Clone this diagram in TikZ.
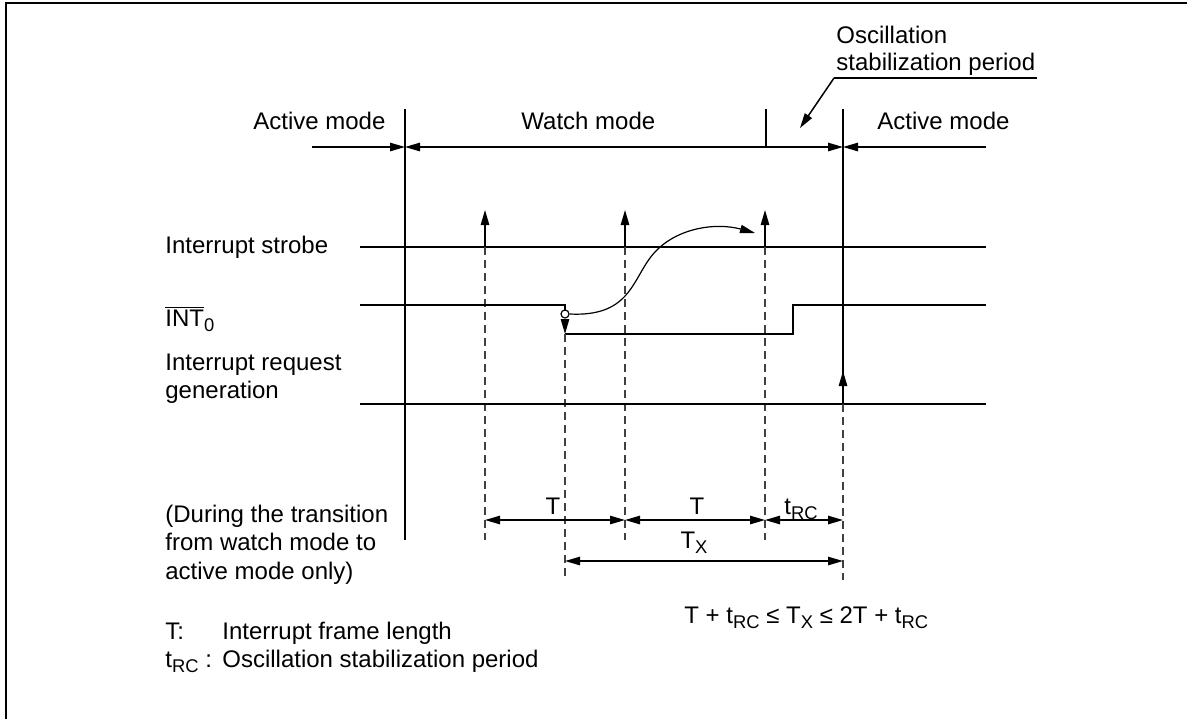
\documentclass[tikz,border=0pt]{standalone}
\usepackage{fontspec}
\setmainfont{Liberation Sans}
\usetikzlibrary{arrows.meta}
\newcommand\sbs[1]{\raisebox{-2.6pt}{\fontsize{9.2}{9.2}\selectfont #1}}
\newcommand\myovl[1]{\setbox0\hbox{#1}\rlap{\rule[\dimexpr\ht0+1pt\relax]{\wd0}{0.5pt}}#1}
\begin{document}
\begin{tikzpicture}[x=0.5pt,y=-0.5pt,
  lbl/.style={inner sep=0pt, anchor=base west, font=\fontsize{12}{14}\selectfont},
  clbl/.style={inner sep=0pt, anchor=base, font=\fontsize{12}{14}\selectfont},
  ln/.style={line width=0.75pt},
  dsh/.style={line width=0.7pt, dash pattern=on 4pt off 2.5pt, black!75},
  tip/.style={-{Triangle[length=7.5pt,width=4.2pt]}, line width=0.75pt},
  dim/.style={{Triangle[length=7.5pt,width=4.2pt]}-{Triangle[length=7.5pt,width=4.2pt]}, line width=0.75pt}]
\useasboundingbox (0,0) rectangle (1187,719);
% frame
\draw[line width=1pt] (6,719) -- (6,3) -- (1187,3);

% key coordinates
\coordinate (mL) at (312,147);
\coordinate (m1) at (405,147);
\coordinate (m2) at (843,147);
\coordinate (mR) at (986,147);
\coordinate (v1top) at (405,109);
\coordinate (v1bot) at (405,540);
\coordinate (v2top) at (843,109);
\coordinate (tickTop) at (766,109);
\coordinate (tickBot) at (766,147);

% labels top
\node[lbl] (am1) at (253,129) {Active mode};
\node[lbl] (wm) at (521,129) {Watch mode};
\node[lbl] (am2) at (877,129) {Active mode};
\node[lbl] (osc1) at (836,43) {Oscillation};
\node[lbl] (osc2) at (836,70) {stabilization period};
\coordinate (uL) at (834,78);
\coordinate (uR) at (1037,78);
\coordinate (uTip) at (800,128);
\draw[ln] (uR) -- (uL);
\draw[ln, -{Triangle[length=7.5pt,width=4.2pt]}] (uL) -- (uTip);

% mode arrows
\draw[tip] (mL) -- (m1);
\draw[dim] (m1) -- (m2);
\draw[tip] (mR) -- (m2);
\draw[ln] (v1top) -- (v1bot);
\draw[ln] (tickTop) -- (tickBot);

% left labels
\node[lbl] (is) at (165,253) {Interrupt strobe};
\node[lbl] (int) at (165,326) {\myovl{INT}\sbs{0}};
\node[lbl] (irq1) at (165,370) {Interrupt request};
\node[lbl] (irq2) at (165,398) {generation};
\node[lbl] (dur1) at (165,522) {(During the transition};
\node[lbl] (dur2) at (165,550) {from watch mode to};
\node[lbl] (dur3) at (165,579) {active mode only)};
\node[lbl] (lgT) at (165,639) {T:};
\node[lbl] (lgTd) at (222,639) {Interrupt frame length};
\node[lbl] (lgt) at (165,667) {t\sbs{RC}};
\node[lbl] (lgc) at (205,667) {:};
\node[lbl] (lgtd) at (222,667) {Oscillation stabilization period};

% interrupt strobe line and strobes
\coordinate (isL) at (360,247);
\coordinate (isR) at (986,247);
\draw[ln] (isL) -- (isR);
\foreach \x/\n in {485/a,625/b,765/c}{
  \coordinate (s\n) at (\x,247);
  \coordinate (s\n t) at (\x,210);
  \coordinate (s\n b) at (\x,540);
  \draw[tip] (s\n) -- (s\n t);
  \draw[dsh] (s\n) -- (s\n b);
}

% INT0 waveform
\coordinate (iL) at (360,305);
\coordinate (iF) at (565,305);
\coordinate (iC) at (565,314);
\coordinate (iLow) at (565,334);
\coordinate (iRl) at (793,334);
\coordinate (iRh) at (793,305);
\coordinate (iR) at (986,305);
\draw[ln] (iL) -- (iF) -- (565,310);
\node[circle, draw, line width=0.6pt, fill=white, minimum size=4pt, inner sep=0pt] (circ) at (iC) {};
\draw[tip] (circ.south) -- (iLow);
\draw[ln] (iLow) -- (iRl) -- (iRh) -- (iR);
\coordinate (iLowB) at (565,580);
\draw[dsh] (iLow) -- (iLowB);
% curved arrow
\coordinate (cEnd) at (755,233);
\draw[line width=0.6pt, -{Triangle[length=7.5pt,width=4.2pt]}] (circ.east) .. controls (628,317) and (632,282) .. (650,258) .. controls (672,228) and (715,222) .. (cEnd);

% interrupt request line
\coordinate (rqL) at (360,404);
\coordinate (rqR) at (986,404);
\coordinate (rq) at (843,404);
\coordinate (rqT) at (843,371);
\coordinate (rqB) at (843,580);
\draw[ln] (rqL) -- (rqR);
\draw[ln] (v2top) -- (rq);
\draw[tip] (rq) -- (rqT);
\draw[dsh] (rq) -- (rqB);

% dimensions
\coordinate (d1) at (485,520);
\coordinate (d2) at (625,520);
\coordinate (d3) at (765,520);
\coordinate (d4) at (843,520);
\coordinate (e1) at (565,561);
\coordinate (e2) at (843,561);
\draw[dim] (d1) -- (d2);
\draw[dim] (d2) -- (d3);
\draw[dim] (d3) -- (d4);
\draw[dim] (e1) -- (e2);
\node[clbl] (lT1) at (553,514) {T};
\node[clbl] (lT2) at (697,514) {T};
\node[clbl] (ltrc) at (801,514) {t\sbs{RC}};
\node[clbl] (lTx) at (694,548) {T\sbs{X}};
\node[lbl] (form) at (684,623) {T + t\sbs{RC} ≤ T\sbs{X} ≤ 2T + t\sbs{RC}};
\end{tikzpicture}
\end{document}
